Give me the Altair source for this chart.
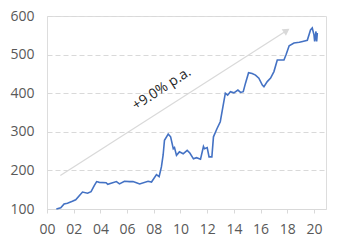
import altair as alt
import pandas as pd

years = [2000.7, 2001.03, 2001.28, 2001.53, 2001.9, 2002.15, 2002.66, 2003.04, 2003.3, 2003.55,
         2003.72, 2003.92, 2004.43, 2004.55, 2005.2, 2005.43, 2005.8, 2006.19, 2006.44, 2006.7,
         2006.94, 2007.57, 2007.83, 2008.2, 2008.4, 2008.57, 2008.7, 2008.8, 2009.08, 2009.26,
         2009.46, 2009.55, 2009.7, 2009.92, 2010.2, 2010.5, 2010.7, 2010.97, 2011.2, 2011.5,
         2011.72, 2011.8, 2012.0, 2012.14, 2012.35, 2012.47, 2012.73, 2012.98, 2013.18, 2013.36,
         2013.53, 2013.74, 2014.0, 2014.3, 2014.5, 2014.7, 2014.87, 2015.1, 2015.37, 2015.62,
         2015.87, 2016.13, 2016.25, 2016.5, 2016.75, 2017.0, 2017.25, 2017.46, 2017.75, 2017.9,
         2018.14, 2018.5, 2018.9, 2019.15, 2019.5, 2019.74, 2019.87, 2020.0, 2020.05, 2020.15,
         2020.2, 2020.25]
values = [100, 103, 113, 115, 120, 124, 144, 141, 145, 161,
          171, 169, 168, 164, 171, 165, 172, 171, 171, 168,
          165, 172, 170, 189, 184, 209, 240, 278, 294, 287,
          256, 259, 239, 248, 243, 252, 245, 230, 233, 229,
          262, 256, 259, 235, 235, 287, 308, 326, 365, 400,
          395, 404, 401, 408, 402, 404, 426, 453, 451, 447,
          439, 421, 417, 430, 439, 456, 486, 486, 486, 499,
          523, 530, 532, 534, 537, 564, 569, 551, 534, 560,
          534, 556]

arrow_x = [2001.0, 2017.85]
arrow_y = [187, 560]
head_x = [2017.95]
head_y = [562]
note_x = [2008.6]
note_y = [411]
note_text = ["+9.0% p.a."]
tick_years = list(range(2000, 2021, 2))
y_ticks = [100, 200, 300, 400, 500, 600]

FONT = "Open Sans"
GRAY = "#d9d9d9"

df = pd.DataFrame({"year": years, "value": values})
arrow_df = pd.DataFrame({"year": arrow_x, "value": arrow_y})
head_df = pd.DataFrame({"year": head_x, "value": head_y})
note_df = pd.DataFrame({"year": note_x, "value": note_y, "label": note_text})

xscale = alt.Scale(domain=[2000, 2020.9], nice=False, zero=False)
yscale = alt.Scale(domain=[100, 600], nice=False, zero=False)

xaxis = alt.Axis(values=tick_years, tickCount=len(tick_years) + 5, title=None, grid=False,
                 labelOverlap=False, labelFlush=False,
                 labelExpr="datum.value < 2010 ? '0' + (datum.value - 2000) : '' + (datum.value - 2000)",
                 domainColor=GRAY, tickColor=GRAY, tickSize=4, labelPadding=9,
                 labelFont=FONT, labelFontSize=14, labelColor="#595959")
yaxis = alt.Axis(values=y_ticks, tickCount=len(y_ticks) + 5, title=None, grid=True,
                 gridColor=GRAY, gridDash=[5, 3], labelFlush=False,
                 gridWidth=1, ticks=False, domain=False, labelPadding=13, labelOverlap=False,
                 labelFont=FONT, labelFontSize=14, labelColor="#595959")

arrow = alt.Chart(arrow_df).mark_line(color=GRAY, strokeWidth=1.2).encode(
    x=alt.X("year:Q", scale=xscale, axis=xaxis),
    y=alt.Y("value:Q", scale=yscale, axis=yaxis),
)
head = alt.Chart(head_df).mark_point(shape="triangle-up", filled=True, color=GRAY,
                                     size=60, angle=57, opacity=1).encode(
    x=alt.X("year:Q", scale=xscale),
    y=alt.Y("value:Q", scale=yscale),
)
line = alt.Chart(df).mark_line(color="#4472C4", strokeWidth=1.6).encode(
    x=alt.X("year:Q", scale=xscale),
    y=alt.Y("value:Q", scale=yscale),
)
note = alt.Chart(note_df).mark_text(font=FONT, fontSize=14, color="#262626",
                                    angle=327, align="center", baseline="middle").encode(
    x=alt.X("year:Q", scale=xscale),
    y=alt.Y("value:Q", scale=yscale),
    text="label:N",
)

chart = alt.layer(arrow, head, line, note).properties(
    width=279, height=193,
    autosize=alt.AutoSizeParams(type="none"),
    padding={"left": 47, "top": 16, "right": 15, "bottom": 38},
).configure_view(stroke=None).configure(background="white")

chart.save("out.html", embed_options={"renderer": "svg", "actions": False})
